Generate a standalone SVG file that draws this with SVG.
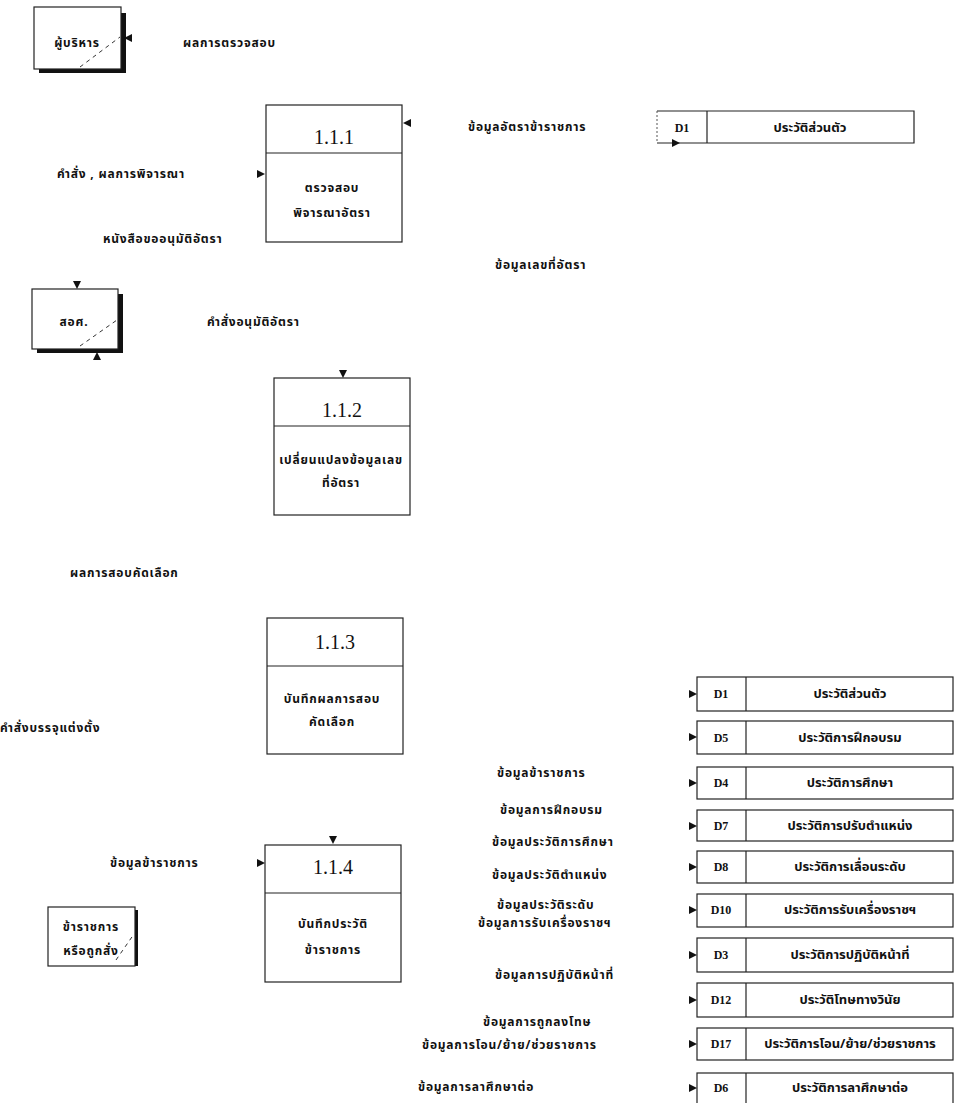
<svg xmlns="http://www.w3.org/2000/svg" width="962" height="1103" viewBox="0 0 962 1103">
  <defs>
    <style>
      .bg { fill: #ffffff; }
      .box { fill: #ffffff; stroke: #222; stroke-width: 1.2; }
      .shadow { fill: #111; }
      .dash { stroke: #333; stroke-width: 1; stroke-dasharray: 4 4; fill: none; }
      .line { stroke: #222; stroke-width: 1.2; fill: none; }
      .faint { stroke: #555; stroke-width: 1; stroke-dasharray: 2 2; fill: none; }
      .th { font-family: "Noto Sans Thai", "Noto Sans", "DejaVu Sans", sans-serif; font-weight: bold; font-size: 12px; letter-spacing: 0.8px; fill: #111; }
      .thc { text-anchor: middle; }
      .ds { font-family: "Noto Sans Thai", "Noto Sans", "DejaVu Sans", sans-serif; font-weight: bold; font-size: 13px; fill: #111; text-anchor: middle; }
      .num { font-family: "Liberation Serif", "Times New Roman", serif; font-size: 20px; fill: #111; text-anchor: middle; }
      .id { font-family: "Liberation Serif", "Times New Roman", serif; font-weight: bold; font-size: 12px; fill: #111; text-anchor: middle; }
      .arrow { fill: #111; }
    </style>
  </defs>

  <rect class="bg" x="0" y="0" width="962" height="1103"/>

  <!-- external entities -->
  <g id="entity-executive">
    <path class="shadow" d="M121,13 H126 V73 H39 V69 H121 Z"/>
    <rect class="box" x="34" y="7" width="87" height="62"/>
    <line class="dash" x1="80" y1="67" x2="120" y2="37"/>
    <text class="th thc" x="77" y="47">ผู้บริหาร</text>
  </g>

  <g id="entity-ovec">
    <path class="shadow" d="M118,294 H123 V353 H37 V349 H118 Z"/>
    <rect class="box" x="32" y="289" width="86" height="60"/>
    <line class="dash" x1="80" y1="346" x2="117" y2="320"/>
    <text class="th thc" x="74" y="326">สอศ.</text>
  </g>

  <g id="entity-official">
    <path class="shadow" d="M135,910 H138 V966 H135 Z"/>
    <rect class="box" x="48" y="907" width="87" height="59"/>
    <line class="dash" x1="116" y1="960" x2="134" y2="934"/>
    <text class="th thc" x="91" y="931">ข้าราชการ</text>
    <text class="th thc" x="91" y="955">หรือถูกสั่ง</text>
  </g>

  <!-- processes -->
  <g id="process-1-1-1">
    <rect class="box" x="266" y="105" width="136" height="137"/>
    <line class="line" x1="266" y1="153" x2="402" y2="153"/>
    <text class="num" x="334" y="144">1.1.1</text>
    <text class="th thc" x="332" y="192">ตรวจสอบ</text>
    <text class="th thc" x="332" y="217">พิจารณาอัตรา</text>
  </g>

  <g id="process-1-1-2">
    <rect class="box" x="274" y="378" width="136" height="137"/>
    <line class="line" x1="274" y1="426" x2="410" y2="426"/>
    <text class="num" x="342" y="417">1.1.2</text>
    <text class="th thc" x="341" y="464">เปลี่ยนแปลงข้อมูลเลข</text>
    <text class="th thc" x="341" y="487">ที่อัตรา</text>
  </g>

  <g id="process-1-1-3">
    <rect class="box" x="267" y="618" width="136" height="136"/>
    <line class="line" x1="267" y1="666" x2="403" y2="666"/>
    <text class="num" x="335" y="649">1.1.3</text>
    <text class="th thc" x="332" y="703">บันทึกผลการสอบ</text>
    <text class="th thc" x="332" y="726">คัดเลือก</text>
  </g>

  <g id="process-1-1-4">
    <rect class="box" x="265" y="845" width="136" height="137"/>
    <line class="line" x1="265" y1="893" x2="401" y2="893"/>
    <text class="num" x="333" y="874">1.1.4</text>
    <text class="th thc" x="333" y="928">บันทึกประวัติ</text>
    <text class="th thc" x="333" y="954">ข้าราชการ</text>
  </g>

  <!-- data stores -->
  <g id="store-d1-top">
    <path class="line" d="M657,111 H914 V143 H657"/>
    <line class="faint" x1="657" y1="111" x2="657" y2="143"/>
    <line class="line" x1="707" y1="111" x2="707" y2="143"/>
    <text class="id" x="682" y="132">D1</text>
    <text class="ds" x="810" y="132">ประวัติส่วนตัว</text>
  </g>

  <g id="store-d1">
    <rect class="box" x="697" y="677" width="256" height="34"/>
    <line class="line" x1="746" y1="677" x2="746" y2="711"/>
    <text class="id" x="721" y="698">D1</text>
    <text class="ds" x="850" y="698">ประวัติส่วนตัว</text>
  </g>
  <g id="store-d5">
    <rect class="box" x="697" y="721" width="256" height="33"/>
    <line class="line" x1="746" y1="721" x2="746" y2="754"/>
    <text class="id" x="721" y="742">D5</text>
    <text class="ds" x="850" y="742">ประวัติการฝึกอบรม</text>
  </g>
  <g id="store-d4">
    <rect class="box" x="697" y="767" width="256" height="32"/>
    <line class="line" x1="746" y1="767" x2="746" y2="799"/>
    <text class="id" x="721" y="787">D4</text>
    <text class="ds" x="850" y="787">ประวัติการศึกษา</text>
  </g>
  <g id="store-d7">
    <rect class="box" x="697" y="810" width="256" height="31"/>
    <line class="line" x1="746" y1="810" x2="746" y2="841"/>
    <text class="id" x="721" y="830">D7</text>
    <text class="ds" x="850" y="830">ประวัติการปรับตำแหน่ง</text>
  </g>
  <g id="store-d8">
    <rect class="box" x="697" y="851" width="256" height="32"/>
    <line class="line" x1="746" y1="851" x2="746" y2="883"/>
    <text class="id" x="721" y="871">D8</text>
    <text class="ds" x="850" y="871">ประวัติการเลื่อนระดับ</text>
  </g>
  <g id="store-d10">
    <rect class="box" x="697" y="894" width="256" height="33"/>
    <line class="line" x1="746" y1="894" x2="746" y2="927"/>
    <text class="id" x="721" y="914">D10</text>
    <text class="ds" x="850" y="914">ประวัติการรับเครื่องราชฯ</text>
  </g>
  <g id="store-d3">
    <rect class="box" x="697" y="938" width="256" height="34"/>
    <line class="line" x1="746" y1="938" x2="746" y2="972"/>
    <text class="id" x="721" y="959">D3</text>
    <text class="ds" x="850" y="959">ประวัติการปฏิบัติหน้าที่</text>
  </g>
  <g id="store-d12">
    <rect class="box" x="697" y="983" width="256" height="34"/>
    <line class="line" x1="746" y1="983" x2="746" y2="1017"/>
    <text class="id" x="721" y="1004">D12</text>
    <text class="ds" x="850" y="1004">ประวัติโทษทางวินัย</text>
  </g>
  <g id="store-d17">
    <rect class="box" x="697" y="1028" width="256" height="32"/>
    <line class="line" x1="746" y1="1028" x2="746" y2="1060"/>
    <text class="id" x="721" y="1048">D17</text>
    <text class="ds" x="850" y="1048">ประวัติการโอน/ย้าย/ช่วยราชการ</text>
  </g>
  <g id="store-d6">
    <rect class="box" x="697" y="1073" width="256" height="32"/>
    <line class="line" x1="746" y1="1073" x2="746" y2="1103"/>
    <text class="id" x="721" y="1092">D6</text>
    <text class="ds" x="850" y="1092">ประวัติการลาศึกษาต่อ</text>
  </g>

  <!-- connectors: flow arrowheads and flow labels -->
  <g id="connectors">
    <polygon class="arrow" points="124,38 132,34 132,42"/>
    <polygon class="arrow" points="403,123 411,119 411,127"/>
    <polygon class="arrow" points="265,174 257,170 257,178"/>
    <polygon class="arrow" points="680,143 672,139 672,147"/>
    <polygon class="arrow" points="77,289 73,281 81,281"/>
    <polygon class="arrow" points="97,352 93,360 101,360"/>
    <polygon class="arrow" points="343,378 339,370 347,370"/>
    <polygon class="arrow" points="333,844 329,836 337,836"/>
    <polygon class="arrow" points="265,863 257,859 257,867"/>
    <polygon class="arrow" points="697,694 689,690 689,698"/>
    <polygon class="arrow" points="697,737 689,733 689,741"/>
    <polygon class="arrow" points="697,783 689,779 689,787"/>
    <polygon class="arrow" points="697,826 689,822 689,830"/>
    <polygon class="arrow" points="697,867 689,863 689,871"/>
    <polygon class="arrow" points="697,910 689,906 689,914"/>
    <polygon class="arrow" points="697,955 689,951 689,959"/>
    <polygon class="arrow" points="697,1000 689,996 689,1004"/>
    <polygon class="arrow" points="697,1044 689,1040 689,1048"/>
    <polygon class="arrow" points="697,1088 689,1084 689,1092"/>

    <text class="th" x="183" y="47">ผลการตรวจสอบ</text>
    <text class="th" x="468" y="131">ข้อมูลอัตราข้าราชการ</text>
    <text class="th" x="57" y="178">คำสั่ง , ผลการพิจารณา</text>
    <text class="th" x="103" y="243">หนังสือขออนุมัติอัตรา</text>
    <text class="th" x="495" y="269">ข้อมูลเลขที่อัตรา</text>
    <text class="th" x="207" y="326">คำสั่งอนุมัติอัตรา</text>
    <text class="th" x="70" y="577">ผลการสอบคัดเลือก</text>
    <text class="th" x="0" y="732">คำสั่งบรรจุแต่งตั้ง</text>
    <text class="th" x="110" y="867">ข้อมูลข้าราชการ</text>
    <text class="th" x="497" y="777">ข้อมูลข้าราชการ</text>
    <text class="th" x="500" y="814">ข้อมูลการฝึกอบรม</text>
    <text class="th" x="492" y="846">ข้อมูลประวัติการศึกษา</text>
    <text class="th" x="492" y="879">ข้อมูลประวัติตำแหน่ง</text>
    <text class="th" x="497" y="909">ข้อมูลประวัติระดับ</text>
    <text class="th" x="478" y="927">ข้อมูลการรับเครื่องราชฯ</text>
    <text class="th" x="495" y="979">ข้อมูลการปฏิบัติหน้าที่</text>
    <text class="th" x="483" y="1026">ข้อมูลการถูกลงโทษ</text>
    <text class="th" x="422" y="1049">ข้อมูลการโอน/ย้าย/ช่วยราชการ</text>
    <text class="th" x="418" y="1091">ข้อมูลการลาศึกษาต่อ</text>
  </g>
</svg>
